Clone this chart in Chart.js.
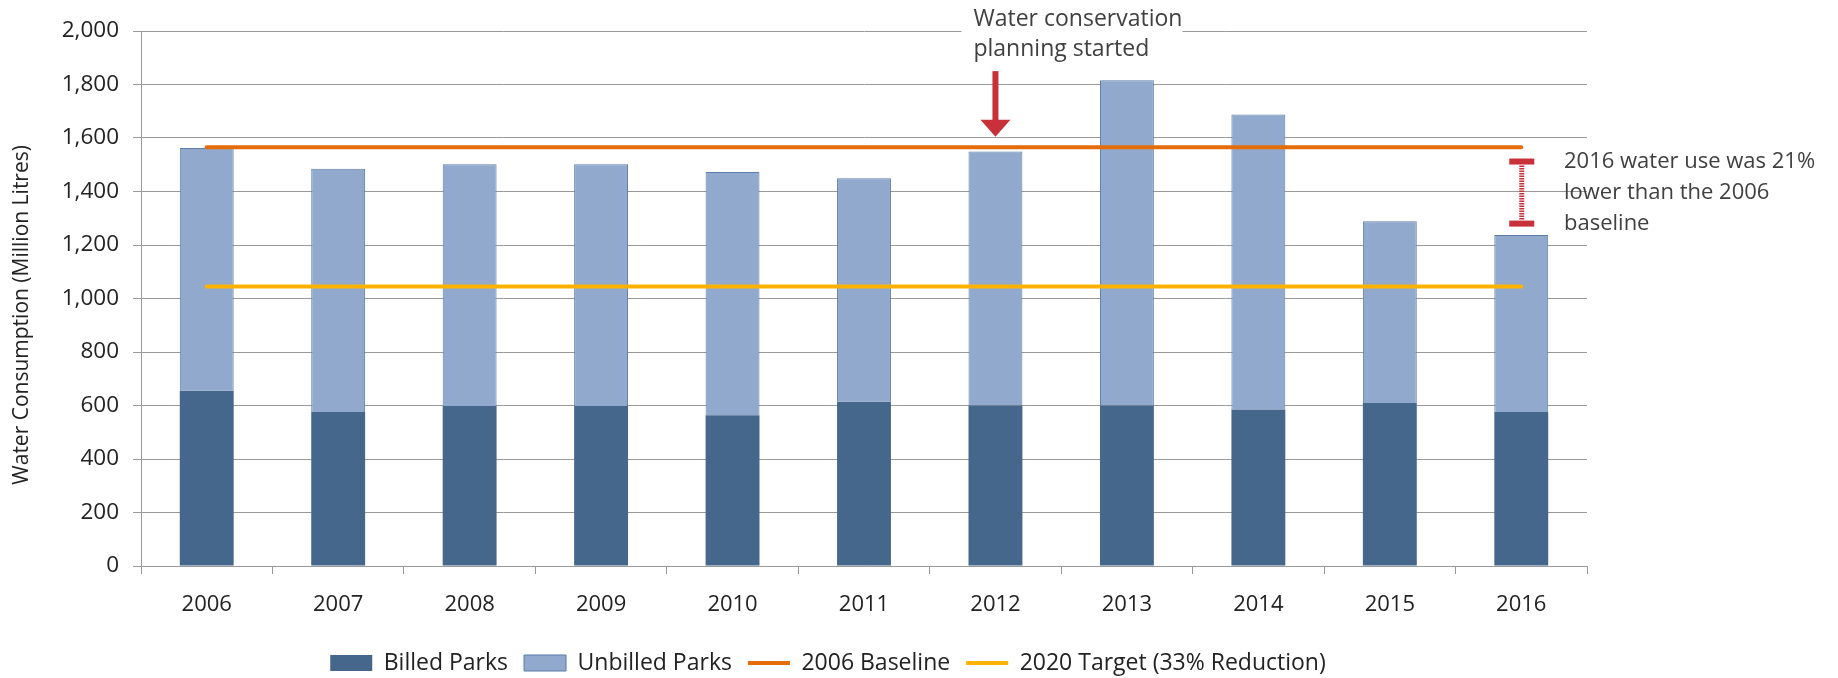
<!DOCTYPE html>
<html>
<head>
<meta charset="utf-8">
<script src="https://cdn.jsdelivr.net/npm/chart.js@4.4.1/dist/chart.umd.min.js"></script>
<style>
  html, body { margin: 0; padding: 0; background: #fff; }
  #wrap { width: 1838px; height: 678px; }
</style>
</head>
<body>
<div id="wrap"><canvas id="water-chart"></canvas></div>
<script>
const years = ['2006', '2007', '2008', '2009', '2010', '2011', '2012', '2013', '2014', '2015', '2016'];
const billedParks = [655, 576, 598, 598, 564, 614, 600, 600, 585, 609, 576];
const unbilledParks = [908, 909, 904, 904, 909, 836, 950, 1216, 1103, 680, 661];
const baseline2006 = [1565, 1565, 1565, 1565, 1565, 1565, 1565, 1565, 1565, 1565, 1565];
const target2020 = [1045, 1045, 1045, 1045, 1045, 1045, 1045, 1045, 1045, 1045, 1045];
const yMin = 0, yMax = 2000, yStep = 200;

// annotation anchors (in data units)
const arrowYear = '2012', arrowFrom = 1850, arrowTo = 1605;
const gapTop = 1512, gapBottom = 1280;

Chart.defaults.font.family = '"Open Sans", "Noto Sans", sans-serif';

const ctx = document.getElementById('water-chart');

const red = '#C8313A';
const textGrey = '#404040';

const notes = {
    id: 'notes',
    afterLayout(chart) {
        // excel puts the legend a bit off centre
        const lg = chart.legend;
        const dx = 828 - (lg.left + lg.right) / 2;
        const dy = 663 - (lg.top + lg.options.labels.padding + lg.options.labels.font.size / 2);
        lg.left += dx; lg.right += dx;
        lg.top += dy; lg.bottom += dy;
    },
    afterDraw(chart) {
        const c = chart.ctx;
        const x = chart.scales.x, y = chart.scales.y;
        c.save();

        // "planning started" arrow
        const ax = x.getPixelForValue(years.indexOf(arrowYear));
        const a0 = y.getPixelForValue(arrowFrom);
        const a1 = y.getPixelForValue(arrowTo);
        c.fillStyle = red;
        c.fillRect(ax - 3, a0, 6, a1 - a0 - 16);
        c.beginPath();
        c.moveTo(ax - 15, a1 - 17);
        c.lineTo(ax + 15, a1 - 17);
        c.lineTo(ax, a1);
        c.closePath();
        c.fill();

        c.fillStyle = '#fff';
        c.fillRect(ax - 34, 0, 221, 64);
        c.fillStyle = textGrey;
        c.font = '23px "Open Sans", sans-serif';
        c.textAlign = 'left';
        c.textBaseline = 'alphabetic';
        c.fillText('Water conservation', ax - 22, 26);
        c.fillText('planning started', ax - 22, 56);

        // 21% gap marker
        const bx = x.getPixelForValue(years.length - 1);
        const g0 = y.getPixelForValue(gapTop);
        const g1 = y.getPixelForValue(gapBottom);
        c.fillStyle = red;
        c.fillRect(bx - 12, g0 - 3, 25, 6);
        c.fillRect(bx - 12, g1 - 3, 25, 6);
        c.strokeStyle = red;
        c.lineWidth = 5;
        c.setLineDash([1.5, 1]);
        c.beginPath();
        c.moveTo(bx + 0.5, g0 + 4);
        c.lineTo(bx + 0.5, g1 - 4);
        c.stroke();
        c.setLineDash([]);

        const tx = chart.chartArea.right - 23;
        c.font = '22px "Open Sans", sans-serif';
        c.fillStyle = textGrey;
        c.fillText('2016 water use was 21%', tx, g0 + 6);
        c.fillText('lower than the 2006', tx, g0 + 37);
        c.fillText('baseline', tx, g0 + 68);
        c.restore();
    }
};

new Chart(ctx, {
    type: 'bar',
    data: {
        labels: years,
        datasets: [{
            label: 'Billed Parks',
            data: billedParks,
            backgroundColor: '#45678C',
            borderWidth: 0,
            stack: 'parks',
            order: 1
        }, {
            label: 'Unbilled Parks',
            data: unbilledParks,
            backgroundColor: '#91A9CD',
            borderColor: '#5B7DA8',
            borderWidth: 1,
            stack: 'parks',
            order: 1
        }, {
            type: 'line',
            label: '2006 Baseline',
            data: baseline2006,
            borderColor: '#E46C0A',
            backgroundColor: '#E46C0A',
            borderWidth: 4,
            borderCapStyle: 'round',
            pointRadius: 0,
            stack: 'baseline',
            order: 0
        }, {
            type: 'line',
            label: '2020 Target (33% Reduction)',
            data: target2020,
            borderColor: '#FFB300',
            backgroundColor: '#FFB300',
            borderWidth: 4,
            borderCapStyle: 'round',
            pointRadius: 0,
            stack: 'target',
            order: 0
        }]
    },
    options: {
        responsive: true,
        maintainAspectRatio: false,
        animation: false,
        barPercentage: 0.41,
        categoryPercentage: 1,
        layout: { padding: { top: 31, right: 251, bottom: 0, left: 0 } },
        scales: {
            x: {
                stacked: true,
                grid: { drawOnChartArea: false, drawTicks: true, tickLength: 8, color: '#999', offset: true },
                border: { color: '#999' },
                ticks: { font: { size: 22 }, color: '#222', padding: 18 },
                afterFit(s) { s.height = 63; }
            },
            y: {
                stacked: true,
                min: yMin,
                max: yMax,
                ticks: {
                    stepSize: yStep,
                    font: { size: 22.5 },
                    color: '#222',
                    padding: 14,
                    callback: v => v.toLocaleString('en-US')
                },
                grid: { color: '#999', tickLength: 8 },
                border: { color: '#999' },
                title: {
                    display: true,
                    // trailing spaces nudge the centred title down a little, like the original
                    text: 'Water Consumption (Million Litres)      ',
                    font: { size: 21 },
                    color: '#222',
                    padding: { top: 9, bottom: 0 }
                },
                afterFit(s) { s.width = 141; }
            }
        },
        plugins: {
            legend: {
                position: 'bottom',
                labels: {
                    usePointStyle: true,
                    pointStyleWidth: 42,
                    boxHeight: 16,
                    padding: 16,
                    color: '#222',
                    font: { size: 23 },
                    sort: (a, b) => a.datasetIndex - b.datasetIndex,
                    generateLabels(chart) {
                        return Chart.defaults.plugins.legend.labels.generateLabels(chart).map(l => {
                            l.pointStyle = l.datasetIndex < 2 ? 'rect' : 'line';
                            return l;
                        });
                    }
                }
            },
            tooltip: { enabled: false }
        }
    },
    plugins: [notes]
});
</script>
</body>
</html>
